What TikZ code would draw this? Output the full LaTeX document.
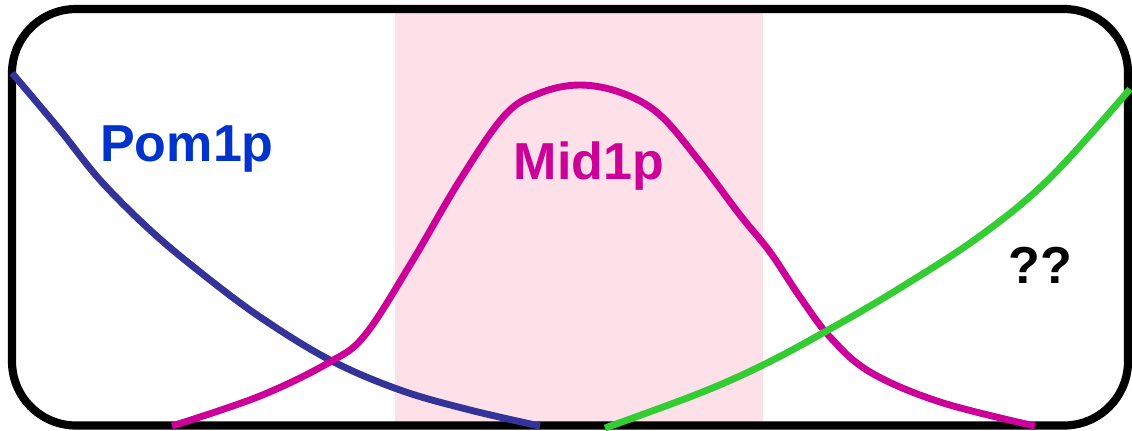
\documentclass[tikz,border=0pt]{standalone}
\usepackage{fontspec}
\setmainfont{Liberation Sans}
\definecolor{pomblue}{RGB}{51,51,153}
\definecolor{pomtext}{RGB}{0,51,204}
\definecolor{midmag}{RGB}{204,0,153}
\definecolor{unkgreen}{RGB}{51,204,51}
\definecolor{zonepink}{RGB}{253,224,232}
\usetikzlibrary{positioning}
\tikzset{
  gradient/.style={line width=4.9pt},
  label/.style={font=\fontsize{37}{42}\selectfont\bfseries, inner sep=0pt}
}

\begin{document}
\begin{tikzpicture}[x=0.025cm, y=-0.025cm]
  \useasboundingbox (0,0) rectangle (1132,430);
  % middle zone
  \fill[zonepink] (395,13) rectangle (763,422);
  % cell outline
  \draw[line width=5.8pt, rounded corners=1.6cm] (12,9) rectangle (1128,425.5);
  % gradients
  \draw[gradient, pomblue] plot[smooth, tension=0.6] coordinates {(12,73) (60,130) (100,180) (150,230) (200,272) (260,317) (330,360) (400,390) (470,410) (540,426)};
  \draw[gradient, midmag] plot[smooth, tension=0.6] coordinates {(172,426) (260,396) (330,362) (365,335) (410,265) (460,180) (505,115) (540,93) (580,85) (622,93) (660,115) (700,162) (740,215) (770,252) (800,297) (830,337) (870,372) (940,402) (1035,426)};
  \draw[gradient, unkgreen] plot[smooth, tension=0.6] coordinates {(605,428) (700,393) (765,364) (830,329) (900,288) (980,236) (1050,178) (1130,89)};
  % labels
  \node[label, pomtext] (pom) at (187,149) {Pom1p};
  \node[label, midmag] (mid) at (589,166) {Mid1p};
  \node[label, black] (unk) at (1040,265) {??};
\end{tikzpicture}
\end{document}
